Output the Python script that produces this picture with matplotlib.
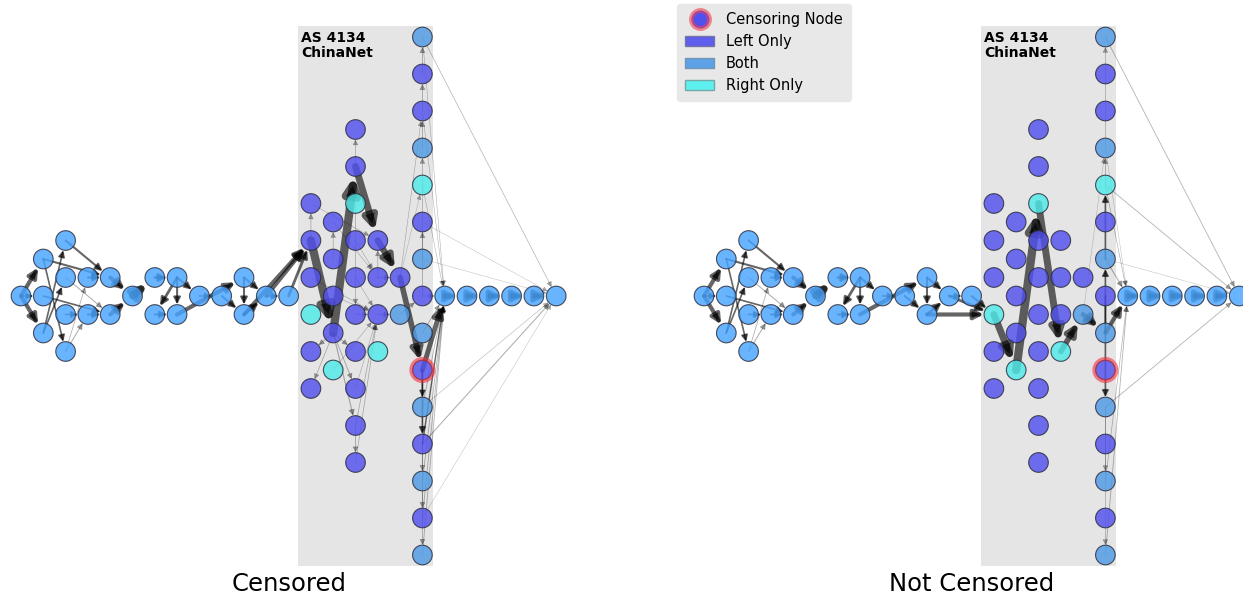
import matplotlib
matplotlib.use('Agg')
import matplotlib.pyplot as plt
from matplotlib.patches import FancyArrowPatch, Rectangle, Patch
from matplotlib.lines import Line2D

plt.rcParams['font.family'] = 'DejaVu Sans'

# ---- graph data -------------------------------------------------------
panel_titles = ['Censored', 'Not Censored']
as_label = 'AS 4134\nChinaNet'

# hosts before the AS (seen on both sides)
cluster_nodes = ['a%d' % i for i in range(23)]
# hosts inside the AS and which traceroute side saw them (L / B / R)
as_nodes = ['h%d' % i for i in range(27)]
as_groups = ['L', 'L', 'L', 'R', 'L', 'L', 'L', 'L', 'L', 'L', 'L', 'L', 'L', 'L',
             'R', 'L', 'L', 'B', 'L', 'L', 'L', 'R', 'R', 'L', 'L', 'L', 'L']
border_nodes = ['r%d' % i for i in range(15)]
border_groups = ['B', 'L', 'L', 'B', 'R', 'L', 'B', 'L', 'B', 'L', 'B', 'L', 'B', 'L', 'B']
censor_node = 'r9'
chain_nodes = ['t0', 't1', 't2', 't3', 't4', 'dst']

# (src, dst, weight) -- weight ~ number of traces through the link
cluster_edges = [
    ('a0', 'a1', 3), ('a0', 'a8', 3), ('a0', 'a3', 1.2), ('a1', 'a6', 1.5),
    ('a1', 'a12', 1.2), ('a2', 'a6', 1.5), ('a3', 'a11', 1.2), ('a8', 'a2', 1.2),
    ('a8', 'a4', 1.2), ('a4', 'a11', 0.8), ('a9', 'a10', 1.2), ('a12', 'a5', 0.6),
    ('a12', 'a10', 0.8), ('a5', 'a6', 1.5), ('a10', 'a11', 1.5), ('a6', 'a7', 3),
    ('a11', 'a7', 3), ('a7', 'a13', 5), ('a13', 'a14', 2), ('a14', 'a15', 2),
    ('a14', 'a16', 1.5), ('a14', 'a17', 1.5), ('a15', 'a16', 1.5), ('a16', 'a19', 3),
    ('a17', 'a18', 1.2), ('a18', 'a20', 1.5), ('a19', 'a20', 1.5), ('a19', 'a21', 1.5),
    ('a20', 'a21', 2), ('a21', 'a22', 1.2),
]
chain_edges = [('t0', 't1', 3.5), ('t1', 't2', 3.5), ('t2', 't3', 3.5),
               ('t3', 't4', 3.5), ('t4', 'dst', 3.5)]

censored_edges = [
    ('a21', 'h5', 3), ('a20', 'h5', 3), ('a22', 'h5', 2),
    ('h5', 'h18', 6), ('h18', 'h1', 6), ('h1', 'h7', 5), ('h7', 'h12', 4.5),
    ('h12', 'r9', 4), ('r9', 't0', 3.5),
    ('h1', 'h0', 0.5), ('h8', 'h4', 0.5), ('h5', 'h2', 0.5), ('h2', 'h7', 0.4),
    ('h4', 'h11', 0.4), ('h3', 'h15', 0.5), ('h11', 'h7', 0.5), ('h18', 'h19', 0.6),
    ('h18', 'h23', 0.5), ('h18', 'h20', 0.6), ('h18', 'h24', 0.6), ('h18', 'h25', 0.8),
    ('h25', 'h26', 0.6), ('h25', 'h16', 0.5), ('h26', 'h16', 0.5), ('h22', 'h16', 0.4),
    ('h9', 'h16', 0.4), ('h16', 'h17', 0.8), ('h11', 'h12', 0.6), ('h12', 'r2', 0.4),
    ('h12', 'r4', 0.3), ('h13', 'h16', 0.4), ('h15', 'h16', 0.5), ('h10', 'h16', 0.4),
    ('h24', 'h16', 0.4), ('h6', 'h11', 0.4), ('h17', 'r7', 0.5),
    ('r1', 'r0', 0.6), ('r2', 'r1', 0.6), ('r3', 'r2', 0.6), ('r6', 'r3', 0.5),
    ('r7', 'r5', 0.6), ('r0', 't0', 0.4), ('r2', 't0', 0.4), ('r4', 't0', 0.4),
    ('r0', 'dst', 0.5), ('r5', 'dst', 0.3), ('r6', 'dst', 0.3), ('r9', 'r10', 1),
    ('r9', 'r11', 1.2), ('r10', 'r12', 0.6), ('r11', 'r13', 0.6), ('r12', 'r14', 0.6),
    ('r10', 'dst', 0.4), ('r11', 'dst', 0.8), ('r13', 'dst', 0.3), ('r11', 't0', 1),
    ('r12', 't0', 0.6), ('r13', 't0', 0.6), ('r14', 't0', 0.6), ('r10', 't0', 0.6),
    ('r8', 't0', 0.6), ('r7', 't0', 0.6),
]
uncensored_edges = [
    ('a20', 'h14', 3), ('a21', 'h14', 2), ('a22', 'h14', 1.5),
    ('h14', 'h22', 5), ('h22', 'h3', 6), ('h3', 'h21', 5), ('h21', 'h17', 4),
    ('h17', 'r8', 3.5), ('r8', 't0', 3),
    ('h17', 'r3', 0.3), ('r8', 'r6', 1.2), ('r6', 'r4', 1.2), ('r4', 'r3', 0.6),
    ('r3', 'r0', 0.5), ('r7', 'r10', 1.2), ('r10', 'r12', 0.5), ('r10', 'r14', 0.5),
    ('r14', 't0', 0.6), ('r12', 't0', 0.5), ('r10', 'dst', 0.6), ('r4', 'dst', 0.6),
    ('r0', 'dst', 0.6), ('r6', 'dst', 0.3), ('r6', 't0', 0.8), ('r4', 't0', 0.5),
    ('r3', 't0', 0.3),
]

# ---- layout (hop column, half-row) -----------------------------------
cluster_grid = [(0, 0), (1, -2), (2, -3), (1, 0), (2, -1), (3, -1), (4, -1), (5, 0),
                (1, 2), (2, 1), (3, 1), (4, 1), (2, 3), (6, -1), (7, -1), (6, 1),
                (7, 1), (8, 0), (9, 0), (10, -1), (10, 1), (11, 0), (12, 0)]
as_grid = [(15, -9), (15, -7), (13, -5), (15, -5), (14, -4), (13, -3), (15, -3),
           (16, -3), (14, -2), (13, -1), (15, -1), (16, -1), (17, -1), (14, 0),
           (13, 1), (15, 1), (16, 1), (17, 1), (14, 2), (13, 3), (15, 3), (16, 3),
           (14, 4), (13, 5), (15, 5), (15, 7), (15, 9)]
pos = dict(zip(cluster_nodes, cluster_grid))
pos.update(zip(as_nodes, as_grid))
pos.update({n: (18, -14 + 2 * i) for i, n in enumerate(border_nodes)})
pos.update({n: (19 + i, 0) for i, n in enumerate(chain_nodes)})

colors = {'ext': '#48A4FF', 'L': '#5050EE', 'B': '#4E9AE6', 'R': '#4FEAEA'}
group = {n: 'ext' for n in cluster_nodes + chain_nodes}
group.update(zip(as_nodes, as_groups))
group.update(zip(border_nodes, border_groups))

# pixel geometry of one panel
W, H = 1243, 596
col_px, row_px = 22.3, 18.5
x0_px, y0_px = 21, 296
panel_w, panel_h = 578, 570
offsets = [0, 683]
node_s = 200

fig = plt.figure(figsize=(W / 100, H / 100), dpi=100)


def draw_panel(ax, edges, title):
    ax.set_xlim(-x0_px / col_px, (panel_w - x0_px) / col_px)
    ax.set_ylim((panel_h - y0_px) / row_px, -y0_px / row_px)
    ax.axis('off')
    ax.add_patch(Rectangle((12.42, -14.6), 6.06, 29.2, facecolor='#E5E5E5',
                           edgecolor='none', zorder=0))
    ax.text(12.56, -14.35, as_label, fontsize=10, fontweight='bold',
            ha='left', va='top', linespacing=1.1, zorder=5)

    # edges start under the source node and stop at the rim of the target
    for u, v, w in cluster_edges + chain_edges + edges:
        thin = w < 1
        arr = FancyArrowPatch(pos[u], pos[v], arrowstyle='-|>',
                              mutation_scale=7 + 2.2 * w, lw=w,
                              color='black', alpha=0.3 if thin else 0.6,
                              shrinkA=0, shrinkB=7.2, zorder=1)
        ax.add_patch(arr)

    names = list(pos)
    ax.scatter([pos[n][0] for n in names], [pos[n][1] for n in names], s=node_s,
               c=[colors[group[n]] for n in names], alpha=0.82,
               edgecolors='#2A2A3A', linewidths=0.8, zorder=2)
    cx, cy = pos[censor_node]
    ax.scatter([cx], [cy], s=255, facecolors='none', edgecolors='#F03040',
               linewidths=2.8, alpha=0.6, zorder=3)
    ax.text(0.5, -0.025, title, transform=ax.transAxes, fontsize=17.5,
            ha='center', va='center')


for off, edges, title in zip(offsets, [censored_edges, uncensored_edges], panel_titles):
    ax = fig.add_axes([off / W, (H - panel_h) / H, panel_w / W, panel_h / H])
    draw_panel(ax, edges, title)

handles = [
    Line2D([], [], ls='none', marker='o', markersize=13, markerfacecolor='#5050EE',
           markeredgecolor='#F0405099', markeredgewidth=3.5, label='Censoring Node'),
    Patch(facecolor='#5050EE', edgecolor='#7070A0', alpha=0.9, label='Left Only'),
    Patch(facecolor='#4E9AE6', edgecolor='#7090B0', alpha=0.9, label='Both'),
    Patch(facecolor='#4FF0F0', edgecolor='#70A0A0', alpha=0.9, label='Right Only'),
]
leg = fig.legend(handles=handles, loc='upper left', bbox_to_anchor=(677 / W, 1 - 4 / H),
                 borderaxespad=0, fontsize=10.5, facecolor='#E8E8E8', edgecolor='#E8E8E8',
                 framealpha=1, labelspacing=0.48, borderpad=0.55)

fig.savefig('out.png', dpi=100)
